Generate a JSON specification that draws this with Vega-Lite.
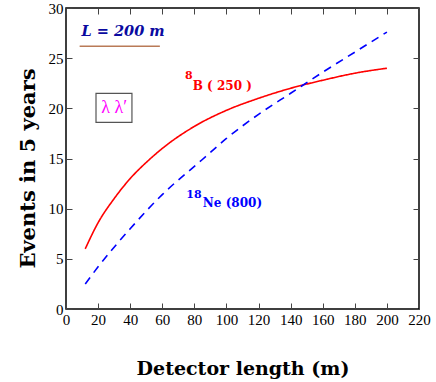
{
  "$schema": "https://vega.github.io/schema/vega-lite/v6.json",
  "width": 353,
  "height": 301,
  "autosize": "none",
  "padding": {"left": 66, "top": 8, "right": 17, "bottom": 73},
  "background": "white",
  "config": {
    "view": {"stroke": "black", "strokeWidth": 1.5},
    "font": "Liberation Serif",
    "axis": {
      "labelFont": "Liberation Serif",
      "labelFontSize": 15,
      "labelColor": "black",
      "labelOverlap": false,
      "labelBound": false,
      "labelFlush": false,
      "titleFont": "DejaVu Serif",
      "titleFontSize": 19,
      "titleFontWeight": "bold",
      "titleColor": "black",
      "grid": false,
      "domain": false,
      "tickColor": "#444",
      "tickSize": -6,
      "tickWidth": 1
    }
  },
  "datasets": {
    "curves": [
      {"L": 12, "events": 6.0, "source": "B8"},
      {"L": 20, "events": 8.6, "source": "B8"},
      {"L": 30, "events": 11.0, "source": "B8"},
      {"L": 40, "events": 13.0, "source": "B8"},
      {"L": 52, "events": 14.9, "source": "B8"},
      {"L": 60, "events": 16.0, "source": "B8"},
      {"L": 80, "events": 18.2, "source": "B8"},
      {"L": 100, "events": 19.8, "source": "B8"},
      {"L": 120, "events": 21.0, "source": "B8"},
      {"L": 140, "events": 22.0, "source": "B8"},
      {"L": 160, "events": 22.8, "source": "B8"},
      {"L": 180, "events": 23.5, "source": "B8"},
      {"L": 200, "events": 24.0, "source": "B8"},
      {"L": 12, "events": 2.5, "source": "Ne18"},
      {"L": 20, "events": 4.2, "source": "Ne18"},
      {"L": 40, "events": 8.0, "source": "Ne18"},
      {"L": 60, "events": 11.4, "source": "Ne18"},
      {"L": 85, "events": 14.9, "source": "Ne18"},
      {"L": 100, "events": 17.0, "source": "Ne18"},
      {"L": 120, "events": 19.4, "source": "Ne18"},
      {"L": 140, "events": 21.5, "source": "Ne18"},
      {"L": 160, "events": 23.6, "source": "Ne18"},
      {"L": 180, "events": 25.6, "source": "Ne18"},
      {"L": 200, "events": 27.6, "source": "Ne18"}
    ]
  },
  "layer": [
    {
      "data": {"name": "curves"},
      "mark": {"type": "line", "strokeWidth": 1.6, "interpolate": "monotone"},
      "encoding": {
        "x": {"field": "L", "type": "quantitative", "scale": {"domain": [0, 220], "nice": false},
          "axis": {"orient": "bottom", "values": [0,20,40,60,80,100,120,140,160,180,200,220], "title": "Detector length (m)", "titlePadding": 32, "labelPadding": 9}},
        "y": {"field": "events", "type": "quantitative", "scale": {"domain": [0, 30], "nice": false},
          "axis": {"orient": "left", "values": [0,5,10,15,20,25,30], "title": "Events in 5 years", "titleFontSize": 21, "titleY": 160, "titlePadding": 10, "labelPadding": 9}},
        "color": {"field": "source", "type": "nominal", "scale": {"domain": ["B8", "Ne18"], "range": ["#ff0000", "#0000ff"]}, "legend": null},
        "strokeDash": {"field": "source", "type": "nominal", "scale": {"domain": ["B8", "Ne18"], "range": [[1, 0], [8, 6]]}, "legend": null}
      }
    },
    {
      "data": {"values": [{"x": 0, "y": 0}]},
      "mark": {"type": "point", "opacity": 0},
      "encoding": {
        "x": {"field": "x", "type": "quantitative", "axis": {"orient": "top", "values": [0,20,40,60,80,100,120,140,160,180,200,220], "labels": false, "title": null}},
        "y": {"field": "y", "type": "quantitative", "axis": {"orient": "right", "values": [0,5,10,15,20,25,30], "labels": false, "title": null}}
      }
    },
    {
      "data": {"values": [{"x1": 8.5, "x2": 58.5, "y": 26.2}]},
      "mark": {"type": "rule", "color": "#b97a57", "strokeWidth": 1.5},
      "encoding": {
        "x": {"field": "x1", "type": "quantitative", "axis": null},
        "x2": {"field": "x2"},
        "y": {"field": "y", "type": "quantitative", "axis": null}
      }
    },
    {
      "data": {"values": [{"x1": 18.7, "x2": 41.1, "y1": 21.5, "y2": 18.6}]},
      "mark": {"type": "rect", "fill": "white", "stroke": "#555", "strokeWidth": 1.2},
      "encoding": {
        "x": {"field": "x1", "type": "quantitative", "axis": null},
        "x2": {"field": "x2"},
        "y": {"field": "y1", "type": "quantitative", "axis": null},
        "y2": {"field": "y2"}
      }
    },
    {
      "data": {"values": [{"x": 9.7, "y": 27.6, "t": "L = 200 m"}]},
      "mark": {"type": "text", "font": "DejaVu Serif", "fontWeight": "bold", "fontStyle": "italic", "fontSize": 14.5, "align": "left", "baseline": "middle", "color": "#0a0aa0"},
      "encoding": {
        "x": {"field": "x", "type": "quantitative", "axis": null},
        "y": {"field": "y", "type": "quantitative", "axis": null},
        "text": {"field": "t"}
      }
    },
    {
      "data": {"values": [{"x": 30.0, "y": 20.05, "t": "λ λ′"}]},
      "mark": {"type": "text", "fontSize": 18, "align": "center", "baseline": "middle", "color": "#ff00ff"},
      "encoding": {
        "x": {"field": "x", "type": "quantitative", "axis": null},
        "y": {"field": "y", "type": "quantitative", "axis": null},
        "text": {"field": "t"}
      }
    },
    {
      "data": {"values": [
        {"x": 74.2, "y": 23.25, "t": "8", "c": "B8", "s": 11},
        {"x": 79.0, "y": 22.2, "t": "B ( 250 )", "c": "B8", "s": 12},
        {"x": 75.0, "y": 11.4, "t": "18", "c": "Ne18", "s": 11},
        {"x": 85.3, "y": 10.55, "t": "Ne (800)", "c": "Ne18", "s": 12}
      ]},
      "mark": {"type": "text", "font": "DejaVu Serif", "fontWeight": "bold", "align": "left", "baseline": "middle"},
      "encoding": {
        "x": {"field": "x", "type": "quantitative", "axis": null},
        "y": {"field": "y", "type": "quantitative", "axis": null},
        "text": {"field": "t"},
        "size": {"field": "s", "type": "quantitative", "scale": null},
        "color": {"field": "c", "type": "nominal", "scale": {"domain": ["B8", "Ne18"], "range": ["#ff0000", "#0000ff"]}, "legend": null}
      }
    }
  ],
  "resolve": {"axis": {"x": "independent", "y": "independent"}}
}
